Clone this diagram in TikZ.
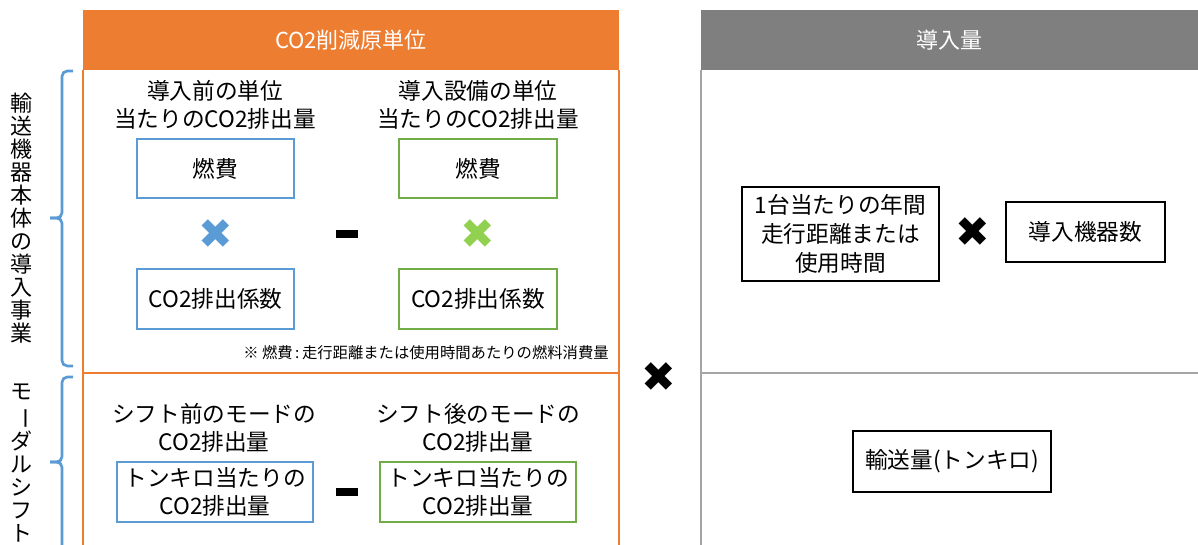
\documentclass[tikz,border=0pt]{standalone}
\usepackage{fontspec}
\setmainfont{Noto Sans CJK JP}
\newfontfamily\symfont{DejaVu Sans}
\usepackage{graphicx}
\usetikzlibrary{positioning}

\definecolor{hdorange}{HTML}{ED7D31}
\definecolor{hdgray}{HTML}{7F7F7F}
\definecolor{lngray}{HTML}{A5A5A5}
\definecolor{brblue}{HTML}{5B9BD5}
\definecolor{bxgreen}{HTML}{70AD47}
\definecolor{lgreen}{HTML}{92D050}

\tikzset{
  headbar/.style={text=white, inner sep=0pt, minimum height=45pt, font=\fontsize{16.5}{19}\selectfont},
  lbltext/.style={align=center, inner sep=0pt, font=\fontsize{17}{21.5}\selectfont},
  vtext/.style={align=center, inner sep=0pt, font=\fontsize{16.5}{17.25}\selectfont},
  boxbase/.style={draw, line width=0.9pt, align=center, inner sep=0pt, font=\fontsize{17}{21.5}\selectfont},
  bluebox/.style={boxbase, draw=brblue},
  greenbox/.style={boxbase, draw=bxgreen},
  blackbox/.style={boxbase, draw=black},
  timessign/.style={inner sep=0pt, font=\symfont\fontsize{31}{31}\selectfont},
  minussign/.style={fill=black, inner sep=0pt, minimum width=16.5pt, minimum height=6pt},
  brace/.style={brblue, line width=2pt, rounded corners=4pt}
}

\begin{document}
\begin{tikzpicture}[x=0.75pt, y=-0.75pt]
        \useasboundingbox (0,0) rectangle (1198,545);

        % Headers
        \node[headbar, fill=hdorange, minimum width=402pt] (ohead) at (351,40) {CO2削減原単位};
        \node[headbar, fill=hdgray, minimum width=372.75pt] (ghead) at (949.5,40) {導入量};

        % Frames
        \draw[hdorange, line width=1.5pt] (83,70) -- (83,548) (619,70) -- (619,548) (83,373) -- (619,373);
        \draw[lngray, line width=1.5pt] (701,70) -- (701,548) (701,373) -- (1198,373);

        % Braces on the left
        \draw[brace] (73,71) -- (62,71) -- (62,218) -- (50,218);
        \draw[brace] (73,366) -- (62,366) -- (62,218) -- (50,218);
        \draw[brace] (73,377) -- (62,377) -- (62,462) -- (50,462);
        \draw[brace] (62,560) -- (62,462) -- (50,462);
        \node[vtext] (vtop) at (22,218) {輸\\送\\機\\器\\本\\体\\の\\導\\入\\事\\業};
        \node[vtext] (vbot) at (22,463) {モ\\\rotatebox[origin=c]{-90}{ー}\\ダ\\ル\\シ\\フ\\ト};

        % Vehicle part
        \node[lbltext] (prehead) at (215,105) {導入前の単位\\当たりのCO2排出量};
        \node[lbltext] (posthead) at (478,105) {導入設備の単位\\当たりのCO2排出量};
        \node[bluebox, minimum width=117.75pt, minimum height=44.25pt] (prefuel) at (215.5,168.5) {燃費};
        \node[greenbox, minimum width=118.5pt, minimum height=44.25pt] (postfuel) at (478,168.5) {燃費};
        \node[timessign, text=brblue] (pretimes) at (216,234) {✖};
        \node[timessign, text=lgreen] (posttimes) at (478,234) {✖};
        \node[minussign] (minusA) at (347,234) {};
        \node[bluebox, minimum width=117.75pt, minimum height=45pt] (prefact) at (215.5,299) {CO2排出係数};
        \node[greenbox, minimum width=118.5pt, minimum height=45pt] (postfact) at (478,299) {CO2排出係数};
        \node[anchor=east, inner sep=0pt, font=\fontsize{11.5}{14}\selectfont] (note) at (609,353) {※ 燃費\,:\,走行距離または使用時間あたりの燃料消費量};

        % Modal shift part
        \node[lbltext] (shifthead) at (214,428) {シフト前のモードの\\CO2排出量};
        \node[lbltext] (aftersthead) at (478,428) {シフト後のモードの\\CO2排出量};
        \node[bluebox, minimum width=147pt, minimum height=45pt] (preton) at (215,492) {トンキロ当たりの\\CO2排出量};
        \node[greenbox, minimum width=147pt, minimum height=45pt] (postton) at (478,492) {トンキロ当たりの\\CO2排出量};
        \node[minussign] (minusB) at (347,492) {};

        % Between the panels
        \node[timessign] (mult) at (659,377) {✖};

        % Amount part
        \node[blackbox, minimum width=147.75pt, minimum height=70.5pt] (distbox) at (840.5,234) {1台当たりの年間\\走行距離または\\使用時間};
        \node[timessign] (multR) at (973,232) {✖};
        \node[blackbox, minimum width=119.25pt, minimum height=45pt] (unitbox) at (1085.5,232) {導入機器数};
        \node[blackbox, minimum width=148.5pt, minimum height=45.75pt] (tonbox) at (952,461.5) {輸送量(トンキロ)};
    \end{tikzpicture}
\end{document}
